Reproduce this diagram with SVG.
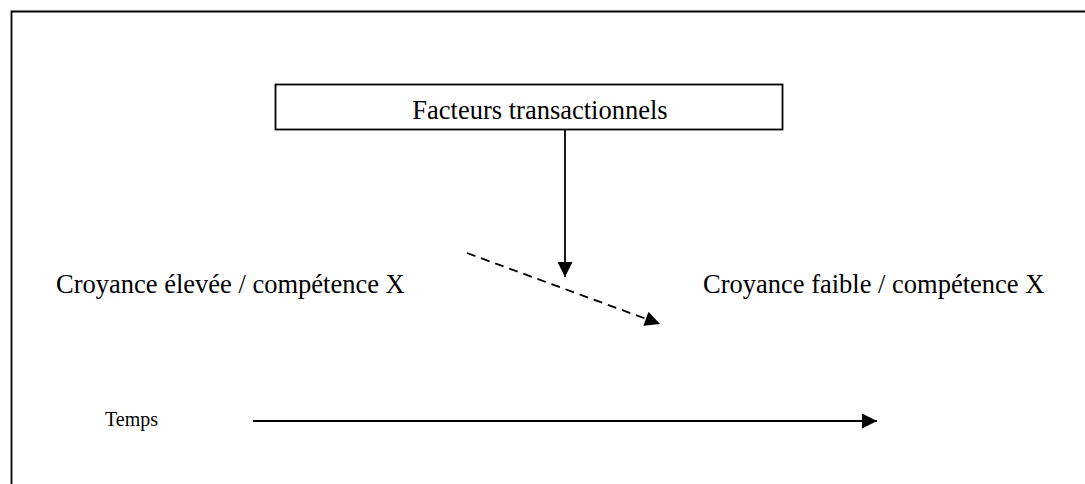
<svg xmlns="http://www.w3.org/2000/svg" width="1085" height="484" viewBox="0 0 1085 484">
<style>
text{font-family:"Liberation Serif","Times New Roman",serif;fill:#000}
.ln{stroke:#000;stroke-width:1.8;fill:none}
</style>
<defs>
<marker id="ahb" viewBox="0 0 10 10" refX="10" refY="5" markerWidth="16" markerHeight="15" markerUnits="userSpaceOnUse" orient="auto">
<path d="M0,0L10,5L0,10z" fill="#000"/>
</marker>
</defs>
<rect width="1085" height="484" fill="#fff"/>
<path class="ln" d="M11.5,484V11.5H1085"/>
<g id="facteurs">
<rect x="275.5" y="84.5" width="507" height="45" fill="#fff" stroke="#000" stroke-width="1.8"/>
<text x="540" y="119" font-size="26.5" text-anchor="middle">Facteurs transactionnels</text>
</g>
<g id="croyance-elevee">
<text x="56" y="293" font-size="26.5">Croyance élevée / compétence X</text>
</g>
<g id="croyance-faible">
<text x="703" y="293" font-size="26.5">Croyance faible / compétence X</text>
</g>
<g id="temps">
<text x="105" y="426" font-size="20">Temps</text>
</g>
<g id="connectors">
<line class="ln" x1="565" y1="130" x2="565" y2="277" marker-end="url(#ahb)"/>
<line class="ln" x1="467" y1="253" x2="660" y2="324" stroke-dasharray="9,6" marker-end="url(#ahb)"/>
<line class="ln" x1="253" y1="421" x2="877" y2="421" stroke-width="2.2" marker-end="url(#ahb)"/>
</g>
</svg>
